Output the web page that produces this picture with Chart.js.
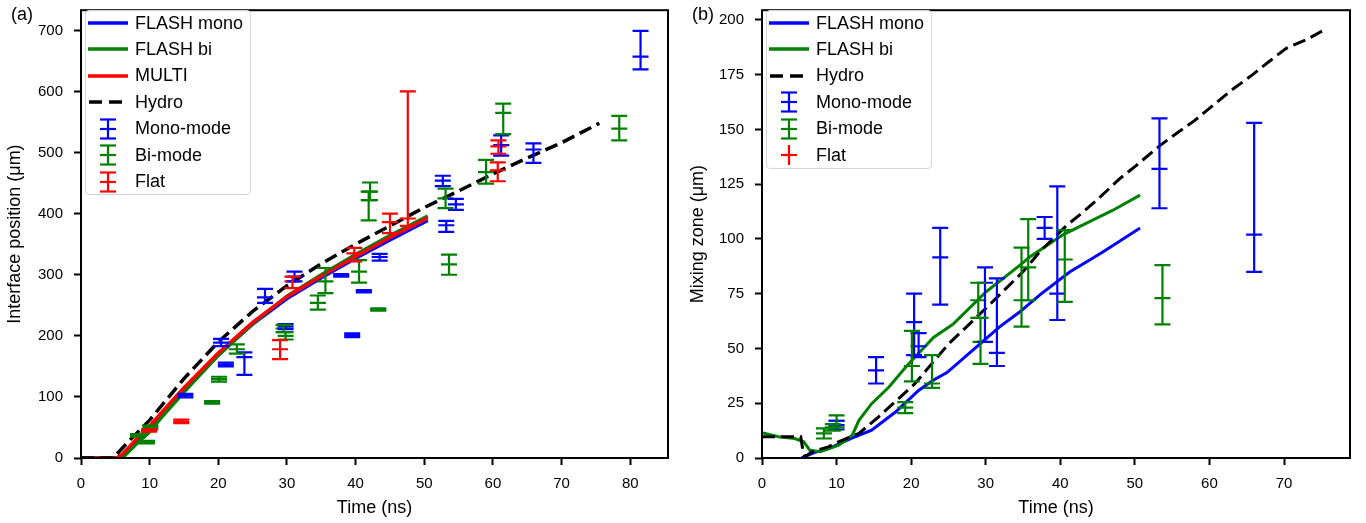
<!DOCTYPE html>
<html>
<head>
<meta charset="utf-8">
<script src="https://cdn.jsdelivr.net/npm/chart.js@4.4.1/dist/chart.umd.min.js"></script>
<style>
  body { margin: 0; background: #fff; width: 1366px; height: 523px; overflow: hidden;
         font-family: "Liberation Sans", Arial, sans-serif; color: #000; }
  .panel { position: absolute; top: 0; width: 683px; height: 523px; }
  .tag { position: absolute; top: 4px; font-size: 18px; }
  .legend { position: absolute; border: 1.5px solid #d6d6d6; border-radius: 4px; background: rgba(255,255,255,0.85); box-sizing: border-box; }
  .row { position: absolute; left: 0; height: 24px; display: flex; align-items: center; font-size: 18px; white-space: nowrap; }
  .row svg { margin-left: 2px; margin-right: 7px; }
</style>
</head>
<body>
<div class="panel" style="left:0"><canvas id="chartA" width="683" height="523"></canvas></div>
<div class="panel" style="left:683px"><canvas id="chartB" width="683" height="523"></canvas></div>
<div class="tag" style="left:11px">(a)</div>
<div class="tag" style="left:692px">(b)</div>
<div class="legend" id="legA" style="left:85px;top:10px;width:166px;height:185px"></div>
<div class="legend" id="legB" style="left:766px;top:10px;width:166px;height:159px"></div>

<script>
// ---------- panel (a): interface position ----------
const xTicksA = [0, 10, 20, 30, 40, 50, 60, 70, 80];
const yTicksA = [0, 100, 200, 300, 400, 500, 600, 700];

const flashMonoAT = [0, 5.5, 8, 10, 12, 15, 20, 25, 30, 35, 40, 45, 50.5];
const flashMonoAY = [0, 0, 27, 49, 75, 112, 169, 219, 261, 295, 327, 357, 389];
const flashBiAT = [0, 6, 8, 10, 12, 15, 20, 25, 30, 35, 40, 45, 50.5];
const flashBiAY = [0, 0, 22, 43, 70, 108, 168, 220, 265, 300, 333, 364, 396];
const multiT = [0, 5.2, 6, 8, 10, 12, 15, 20, 25, 30, 35, 40, 45, 50.5];
const multiY = [0, 0, 6, 30, 52, 78, 115, 172, 222, 264, 298, 330, 361, 393];
const hydroAT = [0, 4.7, 7, 10, 15, 20, 25, 30, 35, 40, 45, 50, 55, 60, 65, 70, 75.5];
const hydroAY = [0, 0, 28, 62, 130, 190, 240, 282, 318, 350, 380, 410, 437, 465, 491, 516, 548];

const monoAT  = [15.2, 20.4, 21.1, 23.8, 26.8, 29.8, 31.1, 37.9, 39.5, 41.2, 43.5, 52.7, 53.2, 54.6, 61.2, 65.9, 81.5];
const monoAY  = [102, 189, 153, 165, 263, 215, 297, 299, 201, 273, 329, 454, 381, 415, 512, 505, 657];
const monoALo = [99, 183, 150, 136, 254, 211, 289, 297, 198, 271, 323, 445, 370, 406, 495, 483, 636];
const monoAHi = [105, 195, 156, 173, 277, 219, 305, 301, 204, 275, 334, 462, 388, 424, 528, 515, 699];

const biAT  = [8.3, 9.6, 10.1, 19.1, 20.1, 22.7, 29.5, 29.8, 34.5, 35.6, 40.5, 41.9, 42.1, 43.3, 53.1, 53.6, 59.0, 61.5, 78.4];
const biAY  = [37, 26, 50, 91, 129, 178, 212, 200, 254, 289, 305, 422, 436, 243, 425, 317, 468, 565, 539];
const biALo = [35, 24, 47, 89, 125, 171, 206, 194, 243, 270, 287, 389, 422, 241, 409, 300, 449, 530, 520];
const biAHi = [39, 28, 53, 93, 133, 186, 218, 206, 266, 311, 324, 436, 451, 245, 441, 333, 488, 580, 560];

const flatAT  = [9.9, 14.6, 29.0, 30.8, 39.8, 45.0, 47.6, 60.7, 60.8];
const flatAY  = [45, 60, 178, 289, 335, 386, 392, 471, 510];
const flatALo = [43, 57, 162, 278, 322, 368, 380, 453, 498];
const flatAHi = [47, 63, 193, 297, 344, 400, 600, 484, 520];

// ---------- panel (b): mixing zone ----------
const xTicksB = [0, 10, 20, 30, 40, 50, 60, 70];
const yTicksB = [0, 25, 50, 75, 100, 125, 150, 175, 200];

const flashMonoBT = [5.3, 7, 9, 12.5, 14.7, 17.9, 21, 22.9, 24.8, 29.2, 31.9, 34.5, 37.3, 41.3, 44, 45.7, 48, 50.7];
const flashMonoBY = [0, 2.5, 4.4, 9.7, 12.7, 21, 30.8, 35.4, 39, 52, 60, 66.5, 74.6, 85, 90.5, 94, 99, 105];
const flashBiBT = [0, 2.2, 4.4, 5.6, 6.4, 7.8, 10.3, 12.1, 13, 14.7, 17, 19.4, 23, 25.6, 30.1, 34.6, 36, 40.4, 44, 47, 50.7];
const flashBiBY = [11.5, 9.7, 8.9, 7.4, 3.6, 2.9, 5.9, 10.4, 17.2, 24.8, 32.3, 42, 55, 61, 76, 88, 92, 102, 108, 113, 120];
const hydroBT = [0, 5.2, 5.5, 5.8, 6.7, 8.9, 10, 13, 15.6, 20.5, 25, 30.1, 35, 37.3, 40.8, 42.6, 45, 48, 50, 53.4, 55.1, 58, 60.5, 63, 65.8, 68, 70.3, 73, 75.2];
const hydroBY = [9.7, 9.7, 3, 0.5, 2.9, 5.1, 7, 11.2, 18.7, 33.9, 52, 68.6, 85, 94.3, 106, 111, 118, 127.6, 133, 142.7, 147, 154, 161, 168, 175, 181, 187, 191, 195];

const monoBT  = [10.0, 15.3, 20.4, 21.0, 23.9, 29.9, 31.5, 37.9, 39.6, 53.3, 66.0];
const monoBY  = [15, 40, 62, 51, 91.6, 80, 48, 105, 75, 132, 102];
const monoBLo = [13, 34, 47, 46, 70, 53, 42, 100, 63, 114, 85];
const monoBHi = [17, 46, 75, 57, 105, 87, 82, 110, 124, 155, 153];

const biBT  = [8.3, 9.5, 10.0, 19.2, 20.1, 22.8, 29.0, 29.3, 34.8, 35.7, 40.6, 53.7];
const biBY  = [11.2, 14, 17, 23, 42, 34, 72, 53, 72, 87, 90.6, 73];
const biBLo = [8.9, 12.5, 14, 20.5, 35, 32, 64, 43, 60, 72, 71.3, 61];
const biBHi = [13.5, 15.5, 19.5, 25.5, 58, 47, 80, 64, 96, 109, 104, 88];

const BLUE = "#0000ff", GREEN = "#008000", RED = "#ff0000", BLACK = "#000000";
const FONT = "'Liberation Sans', Arial, sans-serif";

function pts(xs, ys) { return xs.map((x, i) => ({ x: x, y: ys[i] })); }

function lineSet(label, xs, ys, color, order, dashed, width) {
  return {
    label: label, data: pts(xs, ys), showLine: true, borderColor: color, backgroundColor: color,
    borderWidth: width, pointRadius: 0, borderDash: dashed ? [13, 6] : [], tension: 0,
    borderCapStyle: "butt", order: order
  };
}

function errSet(label, xs, ys, lo, hi, color, order) {
  return {
    label: label, data: pts(xs, ys), showLine: false, borderColor: color, backgroundColor: color,
    pointStyle: "line", pointRadius: 8, pointBorderWidth: 2.2, pointHoverRadius: 8,
    errLo: lo, errHi: hi, order: order
  };
}

const errorBars = {
  id: "errorBars",
  afterDatasetsDraw(chart) {
    const ctx = chart.ctx, ys = chart.scales.y, area = chart.chartArea;
    ctx.save();
    ctx.beginPath();
    ctx.rect(area.left, area.top, area.right - area.left, area.bottom - area.top);
    ctx.clip();
    chart.data.datasets.forEach((ds, i) => {
      if (!ds.errLo) return;
      const meta = chart.getDatasetMeta(i);
      ctx.strokeStyle = ds.borderColor;
      ctx.lineWidth = 2.2;
      meta.data.forEach((p, j) => {
        const lo = ys.getPixelForValue(ds.errLo[j]);
        const hi = ys.getPixelForValue(ds.errHi[j]);
        ctx.beginPath();
        ctx.moveTo(p.x, lo); ctx.lineTo(p.x, hi);
        ctx.moveTo(p.x - 8, lo); ctx.lineTo(p.x + 8, lo);
        ctx.moveTo(p.x - 8, hi); ctx.lineTo(p.x + 8, hi);
        ctx.stroke();
      });
    });
    ctx.restore();
  }
};

const frame = {
  id: "frame",
  afterDraw(chart) {
    const a = chart.chartArea, ctx = chart.ctx;
    ctx.save();
    ctx.strokeStyle = BLACK;
    ctx.lineWidth = 2;
    ctx.strokeRect(a.left, a.top, a.right - a.left, a.bottom - a.top);
    ctx.restore();
  }
};

function makeChart(id, datasets, opt) {
  return new Chart(document.getElementById(id), {
    type: "scatter",
    data: { datasets: datasets },
    plugins: [errorBars, frame],
    options: {
      responsive: false, animation: false, events: [],
      layout: { padding: { top: 7, right: opt.padRight, left: 0, bottom: 0 } },
      plugins: { legend: { display: false }, tooltip: { enabled: false } },
      scales: {
        x: {
          type: "linear", min: 0, max: opt.xMax,
          afterBuildTicks: s => { s.ticks = opt.xTicks.map(v => ({ value: v })); },
          afterFit: s => { s.height = 65; s.paddingLeft = 0; s.paddingRight = 0; },
          grid: { drawOnChartArea: false, drawTicks: true, tickLength: 7, tickWidth: 2, tickColor: BLACK },
          border: { display: false },
          ticks: { color: BLACK, padding: 10, maxRotation: 0, font: { family: FONT, size: 15 } },
          title: { display: true, text: "Time (ns)", color: BLACK, padding: { top: 0, bottom: 4 }, font: { family: FONT, size: 18 } }
        },
        y: {
          type: "linear", min: 0, max: opt.yMax,
          afterBuildTicks: s => { s.ticks = opt.yTicks.map(v => ({ value: v })); },
          afterFit: s => { s.width = opt.yWidth; s.paddingTop = 0; s.paddingBottom = 0; },
          grid: { drawOnChartArea: false, drawTicks: true, tickLength: 7, tickWidth: 2, tickColor: BLACK },
          border: { display: false },
          ticks: { color: BLACK, padding: 11, font: { family: FONT, size: 15 } },
          title: { display: true, text: opt.yTitle, color: BLACK, padding: { top: 4, bottom: 0 }, font: { family: FONT, size: 18 } }
        }
      }
    }
  });
}

makeChart("chartA", [
  lineSet("FLASH mono", flashMonoAT, flashMonoAY, BLUE, 9, false, 3.5),
  lineSet("FLASH bi", flashBiAT, flashBiAY, GREEN, 8, false, 3.5),
  lineSet("MULTI", multiT, multiY, RED, 7, false, 3.5),
  lineSet("Hydro", hydroAT, hydroAY, BLACK, 6, true, 3.5),
  errSet("Mono-mode", monoAT, monoAY, monoALo, monoAHi, BLUE, 5),
  errSet("Bi-mode", biAT, biAY, biALo, biAHi, GREEN, 4),
  errSet("Flat", flatAT, flatAY, flatALo, flatAHi, RED, 3)
], { xMax: 85.5, yMax: 733, xTicks: xTicksA, yTicks: yTicksA, yWidth: 81, padRight: 15, yTitle: "Interface position (μm)" });

makeChart("chartB", [
  lineSet("FLASH mono", flashMonoBT, flashMonoBY, BLUE, 9, false, 3),
  lineSet("FLASH bi", flashBiBT, flashBiBY, GREEN, 8, false, 3),
  lineSet("Hydro", hydroBT, hydroBY, BLACK, 6, true, 3),
  errSet("Mono-mode", monoBT, monoBY, monoBLo, monoBHi, BLUE, 5),
  errSet("Bi-mode", biBT, biBY, biBLo, biBHi, GREEN, 4),
  errSet("Flat", [], [], [], [], RED, 3)
], { xMax: 78.85, yMax: 204.4, xTicks: xTicksB, yTicks: yTicksB, yWidth: 79, padRight: 16, yTitle: "Mixing zone (μm)" });

// legends
function sample(kind, color) {
  let s = '<svg width="40" height="22" viewBox="0 0 40 22">';
  if (kind === "line") s += `<line x1="0" y1="11" x2="40" y2="11" stroke="${color}" stroke-width="3.5"/>`;
  if (kind === "dash") s += `<line x1="1" y1="11" x2="40" y2="11" stroke="${color}" stroke-width="3.5" stroke-dasharray="13 7"/>`;
  if (kind === "err" || kind === "plus") {
    s += `<line x1="20" y1="1" x2="20" y2="21" stroke="${color}" stroke-width="2.2"/>`;
    s += `<line x1="12" y1="11" x2="28" y2="11" stroke="${color}" stroke-width="2.2"/>`;
    if (kind === "err") {
      s += `<line x1="12" y1="1.5" x2="28" y2="1.5" stroke="${color}" stroke-width="2.2"/>`;
      s += `<line x1="12" y1="20.5" x2="28" y2="20.5" stroke="${color}" stroke-width="2.2"/>`;
    }
  }
  return s + "</svg>";
}

function buildLegend(id, items) {
  const box = document.getElementById(id);
  items.forEach((it, i) => {
    const row = document.createElement("div");
    row.className = "row";
    row.style.top = (0 + 26.45 * i) + "px";
    row.innerHTML = sample(it[1], it[2]) + "<span>" + it[0] + "</span>";
    box.appendChild(row);
  });
}

buildLegend("legA", [
  ["FLASH mono", "line", BLUE], ["FLASH bi", "line", GREEN], ["MULTI", "line", RED],
  ["Hydro", "dash", BLACK], ["Mono-mode", "err", BLUE], ["Bi-mode", "err", GREEN], ["Flat", "err", RED]
]);
buildLegend("legB", [
  ["FLASH mono", "line", BLUE], ["FLASH bi", "line", GREEN], ["Hydro", "dash", BLACK],
  ["Mono-mode", "err", BLUE], ["Bi-mode", "err", GREEN], ["Flat", "plus", RED]
]);
</script>
</body>
</html>
